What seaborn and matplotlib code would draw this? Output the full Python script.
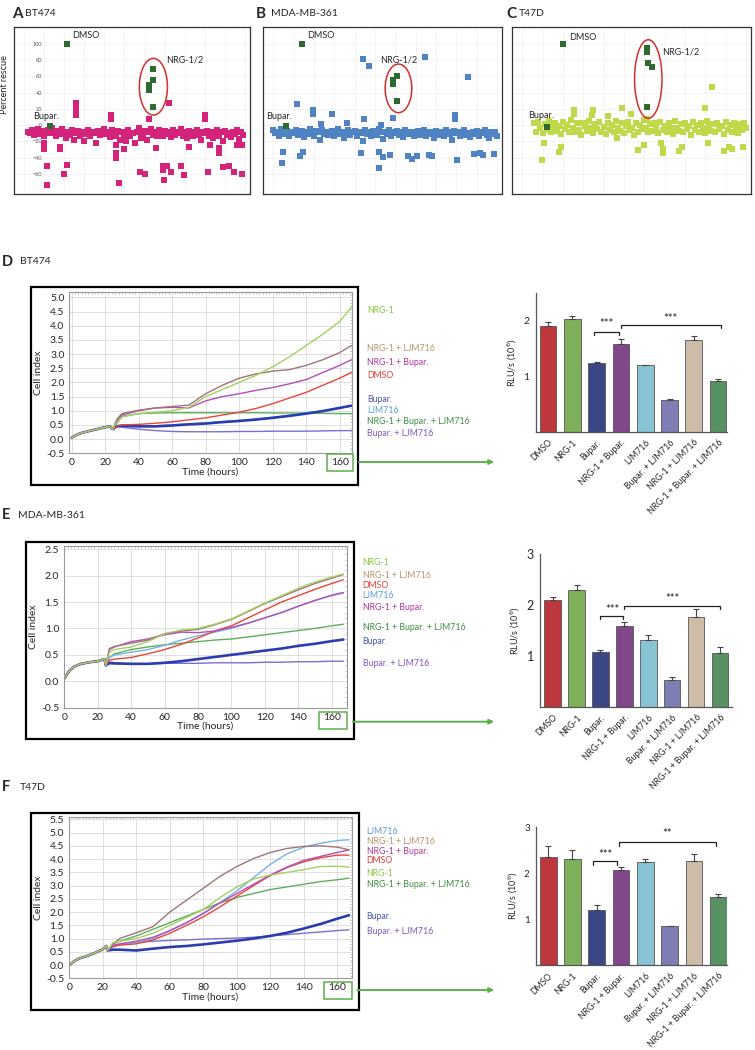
"""
Rescue screen (A-C) + real-time growth and viability panels (D-F).
Rebuilt as a single 755x1050 figure -> out.png
"""

import numpy as np
import matplotlib
matplotlib.use("Agg")
import matplotlib.pyplot as plt
import seaborn as sns
from matplotlib.patches import Rectangle, Ellipse, FancyArrowPatch
from matplotlib.ticker import MultipleLocator

# ----------------------------------------------------------------------
# Data
# ----------------------------------------------------------------------
TREATMENTS = ["DMSO", "NRG-1", "Bupar.", "NRG-1 + Bupar.", "LJM716",
              "Bupar. + LJM716", "NRG-1 + LJM716", "NRG-1 + Bupar. + LJM716"]

# --- screens: percent rescue per well (x = well order) ---
A_BAND = [-8, -10, -6, -12, -9, -5, -11, -7, -13, -8,
          -6, -10, -4, -9, -14, -7, -11, -5, -9, -16,
          -8, -12, -6, -18, -10, -7, -13, -9, -20, -11,
          -6, -14, -8, -10, -22, -7, -12, -9, -5, -11,
          -8, -15, -6, -10, -13, -7, -18, -9, -12, -20,
          -6, -14, -10, -22, -8, -4, -16, -11, -7, -19,
          -9, -5, -12, -8, -14, -6, -10, -13, -7, -11,
          -9, -15, -6, -12, -8, -10, -5, -13, -9, -16,
          -7, -11, -14, -8, -6, -12, -18, -9, -10, -7,
          -13, -8, -16, -11, -6, -14, -9, -20, -7, -12,
          -10, -15, -8, -11, -6, -17, -9, -12]
A_OUT_X = [9.9, 9.9, 11.5, 11.5, 18, 18, 19.7, 21.3, 26, 26, 26, 43.5, 43.5,
           46, 46, 46, 47.3, 50, 57.5, 60, 62, 65.7, 69, 69, 69.8, 71.4, 72.2,
           73, 78, 79.6, 82, 90.3, 90.3, 91.6, 92.8, 97, 97, 99.3, 101.8,
           104.3, 106, 108.4, 108.4]
A_OUT_Y = [-22, -30, -51, -74, -27, -30, -60, -49, 27, 20, 12, 12, 8,
           -25, -35, -40, -71, -30, -58, -60, 8, -28, -55, -50, -68, -50, 27,
           -58, -51, -61, -27, 12, 8, -58, -25, -35, -28, -52, -50,
           -58, -25, -60, -25]
A_HIT_X = [21.3, 13.1, 64.4, 64.4, 62.1, 62.1, 64.4]
A_HIT_Y = [100, -1, 68.7, 55.6, 49, 43, 22.6]

B_BAND = [-6, -10, -8, -13, -5, -9, -11, -7, -14, -8,
          -10, -6, -12, -9, -7, -15, -8, -11, -5, -10,
          -13, -7, -9, -18, -6, -11, -8, -12, -10, -7,
          -14, -9, -5, -11, -8, -16, -10, -6, -12, -9,
          -7, -13, -8, -10, -20, -6, -11, -9, -14, -7,
          -10, -12, -5, -9, -17, -8, -11, -6, -13, -10,
          -8, -7, -12, -9, -15, -6, -10, -11, -8, -13,
          -9, -7, -12, -10, -6, -14, -8, -11, -9, -16,
          -7, -10, -12, -8, -13, -6, -9, -11, -18, -7,
          -10, -8, -14, -9, -6, -12, -10, -15, -8, -11,
          -7, -13, -9, -10, -6, -12, -16, -8, -11, -9, -13]
B_OUT_X = [44, 47.3, 74.7, 96, 11.5, 19.7, 19.7, 28.7, 44.7, 23.5, 59, 52.9,
           89.5, 89.5, 36.5, 4.6, 4.1, 13.1, 14.8, 43, 52.2, 54.2, 57.5, 52.2,
           66.5, 68.1, 70.6, 76.4, 78, 90.6, 98.9, 101.8, 103.4, 108.7]
B_OUT_Y = [81, 73, 83.5, 59, 26, 18.5, 14, 14, 7, 1, 8.6, 0.5,
           12, 7, 3, -33, -46.5, -38, -33, -35, -33, -39, -37, -53,
           -38, -42, -38, -37, -38, -42.5, -36, -34, -37, -36]
B_HIT_X = [14.3, 6.1, 61, 58.8, 58.8, 61]
B_HIT_Y = [100, -1, 60.5, 55.6, 50.6, 30]

C_BAND = [2, -8, 4, -4, -10, 1, -6, 5, -9, -2,
          3, -7, -1, -11, 4, -5, 0, -9, 6, -3,
          -8, 2, -6, -12, 3, -1, -7, 5, -4, -10,
          1, -5, 4, -8, -2, -11, 3, -6, 0, -9,
          5, -3, -7, 2, -10, -1, 4, -6, -4, -12,
          2, -8, 0, -5, 6, -3, -9, 1, -7, 3,
          -2, -10, 4, -6, -1, -8, 2, -4, -11, 5,
          -3, -7, 1, -9, 3, -5, -1, -12, 4, -6,
          0, -8, 2, -4, -10, 5, -2, -7, 1, -9,
          3, -5, -1, -11, 4, -6, 0, -8, 2, -3,
          -10, 1, -6, 3, -4]
C_OUT_X = [93.3, 90, 25.5, 25.5, 34.8, 34.2, 42.4, 48.9, 53.4, 61.6, 10.7, 9.9,
           18, 18.9, 46.8, 57.1, 59.9, 68.1, 69, 69, 77.2, 78.8, 91.6, 99.3,
           101.8, 103.4, 108.4]
C_OUT_Y = [46.5, 20.6, 18.5, 13.5, 18.5, 12.5, 11, 20.6, 13.6, 7.5, -22.6, -43,
           -33, -27, -16.5, -30.6, -25, -22.5, -29, -35, -32, -27, -22.5, -31.5,
           -27, -29.5, -27]
C_HIT_X = [20.2, 12, 61.6, 61.6, 62, 64, 61.6]
C_HIT_Y = [100, -2, 95, 90, 77, 72, 22]

# --- growth curves (cell index); shared pre-treatment part + per-arm part ---
D_T_PRE = [0, 3, 6, 10, 15, 20, 23]
D_PRE = [0.05, 0.15, 0.22, 0.28, 0.35, 0.42, 0.45]
D_T = [24.5, 27, 30, 40, 50, 60, 70, 80, 90, 100, 110, 120, 130, 140, 150, 160, 167]
D_DMSO = [0.35, 0.45, 0.5, 0.52, 0.56, 0.61, 0.68, 0.75, 0.85, 0.95, 1.08, 1.25, 1.45, 1.65, 1.9, 2.15, 2.35]
D_NRG = [0.35, 0.6, 0.78, 0.9, 0.95, 1.0, 1.12, 1.5, 1.75, 2.0, 2.25, 2.55, 2.9, 3.3, 3.7, 4.15, 4.65]
D_BUP = [0.35, 0.45, 0.47, 0.45, 0.45, 0.48, 0.52, 0.55, 0.6, 0.64, 0.69, 0.75, 0.82, 0.9, 0.99, 1.1, 1.18]
D_NRG_BUP = [0.35, 0.65, 0.85, 1.0, 1.1, 1.12, 1.1, 1.35, 1.5, 1.6, 1.72, 1.82, 1.95, 2.1, 2.35, 2.6, 2.8]
D_LJM = [0.35, 0.48, 0.5, 0.48, 0.47, 0.5, 0.54, 0.57, 0.62, 0.66, 0.71, 0.77, 0.84, 0.91, 1.0, 1.1, 1.17]
D_BUP_LJM = [0.35, 0.45, 0.42, 0.35, 0.3, 0.27, 0.26, 0.26, 0.26, 0.27, 0.27, 0.28, 0.28, 0.28, 0.29, 0.3, 0.3]
D_NRG_LJM = [0.35, 0.7, 0.9, 1.02, 1.1, 1.15, 1.2, 1.6, 1.9, 2.15, 2.3, 2.4, 2.45, 2.6, 2.8, 3.05, 3.3]
D_TRIPLE = [0.35, 0.55, 0.8, 0.9, 0.92, 0.93, 0.93, 0.93, 0.93, 0.93, 0.93, 0.92, 0.92, 0.92, 0.91, 0.9, 0.9]

E_T_PRE = [0, 3, 6, 10, 15, 20, 24]
E_PRE = [0.05, 0.2, 0.28, 0.33, 0.36, 0.38, 0.42]
E_T = [24.8, 27, 30, 40, 50, 60, 70, 80, 90, 100, 110, 120, 130, 140, 150, 160, 167]
E_DMSO = [0.3, 0.4, 0.42, 0.45, 0.52, 0.6, 0.7, 0.82, 0.95, 1.05, 1.2, 1.35, 1.5, 1.62, 1.74, 1.85, 1.92]
E_NRG = [0.3, 0.55, 0.6, 0.65, 0.75, 0.9, 0.97, 1.0, 1.08, 1.18, 1.33, 1.48, 1.62, 1.76, 1.88, 1.97, 2.03]
E_BUP = [0.3, 0.35, 0.34, 0.33, 0.33, 0.35, 0.38, 0.42, 0.46, 0.5, 0.54, 0.58, 0.62, 0.67, 0.71, 0.76, 0.79]
E_NRG_BUP = [0.3, 0.6, 0.65, 0.75, 0.8, 0.88, 0.93, 0.92, 0.95, 1.02, 1.1, 1.2, 1.3, 1.42, 1.53, 1.63, 1.68]
E_LJM = [0.3, 0.45, 0.5, 0.55, 0.6, 0.68, 0.78, 0.86, 0.93, 1.0, 1.1, 1.2, 1.3, 1.42, 1.53, 1.62, 1.67]
E_BUP_LJM = [0.3, 0.33, 0.33, 0.33, 0.33, 0.34, 0.34, 0.34, 0.35, 0.35, 0.35, 0.36, 0.36, 0.37, 0.37, 0.38, 0.38]
E_NRG_LJM = [0.3, 0.62, 0.66, 0.72, 0.78, 0.9, 0.95, 0.98, 1.07, 1.17, 1.32, 1.47, 1.6, 1.73, 1.85, 1.95, 2.02]
E_TRIPLE = [0.3, 0.45, 0.52, 0.6, 0.65, 0.69, 0.72, 0.75, 0.78, 0.8, 0.84, 0.88, 0.92, 0.96, 1.0, 1.05, 1.08]

F_T_PRE = [0, 3, 6, 10, 15, 20, 22]
F_PRE = [0.0, 0.15, 0.25, 0.33, 0.45, 0.6, 0.72]
F_T = [22.8, 26, 30, 40, 50, 60, 70, 80, 90, 100, 110, 120, 130, 140, 150, 160, 167]
F_DMSO = [0.55, 0.7, 0.75, 0.8, 0.95, 1.2, 1.5, 1.82, 2.2, 2.6, 3.0, 3.38, 3.68, 3.9, 4.05, 4.15, 4.15]
F_NRG = [0.55, 0.85, 0.9, 1.0, 1.2, 1.5, 1.8, 2.1, 2.55, 2.95, 3.25, 3.4, 3.5, 3.6, 3.72, 3.73, 3.7]
F_BUP = [0.55, 0.58, 0.58, 0.55, 0.62, 0.68, 0.72, 0.78, 0.85, 0.92, 1.0, 1.1, 1.22, 1.38, 1.55, 1.75, 1.88]
F_NRG_BUP = [0.55, 0.75, 0.8, 0.9, 1.05, 1.3, 1.6, 1.95, 2.35, 2.7, 3.05, 3.4, 3.7, 3.95, 4.1, 4.25, 4.35]
F_LJM = [0.55, 0.7, 0.78, 0.85, 1.0, 1.3, 1.6, 1.95, 2.35, 2.8, 3.3, 3.8, 4.2, 4.45, 4.6, 4.7, 4.73]
F_BUP_LJM = [0.55, 0.7, 0.78, 0.85, 0.9, 0.93, 0.95, 0.98, 1.0, 1.02, 1.05, 1.1, 1.15, 1.2, 1.25, 1.3, 1.33]
F_NRG_LJM = [0.55, 0.8, 1.0, 1.22, 1.45, 2.0, 2.45, 2.9, 3.35, 3.72, 4.02, 4.25, 4.4, 4.48, 4.5, 4.45, 4.35]
F_TRIPLE = [0.55, 0.8, 0.9, 1.1, 1.35, 1.6, 1.85, 2.1, 2.35, 2.55, 2.7, 2.85, 2.95, 3.05, 3.15, 3.22, 3.28]

# --- viability bars, RLU/s (10^6), mean and upper error ---
D_RLU = [1.91, 2.03, 1.24, 1.59, 1.20, 0.58, 1.65, 0.92]
D_ERR = [0.07, 0.06, 0.02, 0.08, 0.01, 0.01, 0.07, 0.04]
E_RLU = [2.10, 2.29, 1.07, 1.58, 1.31, 0.52, 1.77, 1.06]
E_ERR = [0.06, 0.11, 0.04, 0.08, 0.09, 0.07, 0.14, 0.11]
F_RLU = [2.36, 2.32, 1.20, 2.07, 2.24, 0.84, 2.27, 1.49]
F_ERR = [0.23, 0.18, 0.11, 0.06, 0.08, 0.02, 0.14, 0.06]

# ----------------------------------------------------------------------
# Styling
# ----------------------------------------------------------------------
LINE_COLORS = ["#E8453C", "#A3D15F", "#2A3DB0", "#B34FB8",
               "#74B2EA", "#7B6FD0", "#A07478", "#5CAF5C"]
LABEL_COLORS = ["#E53935", "#8CC63F", "#4A55B0", "#B0359A",
                "#5B9BD5", "#7E57C2", "#B8956A", "#3E8E41"]
BAR_COLORS = ["#D42027", "#7CBF4A", "#2E3D92", "#8A3B97",
              "#7DCBE0", "#7575BD", "#D3BCA2", "#4E9A5E"]
SCREEN_COLORS = ["#D4237A", "#4F83C4", "#BFD94A"]
HIT_GREEN = "#2F6B2F"
RING_RED = "#D32F2F"
ARROW_GREEN = "#5BB04C"

sns.set_style("white")
plt.rcParams["font.family"] = ["Lato", "DejaVu Sans"]
plt.rcParams["axes.unicode_minus"] = True

W, H = 755, 1050
fig = plt.figure(figsize=(W / 100, H / 100), dpi=100)


def px_axes(l, t, r, b):
    return fig.add_axes([l / W, 1 - b / H, (r - l) / W, (b - t) / H])


def fig_rect(l, t, r, b, color, lw):
    fig.add_artist(Rectangle((l / W, 1 - b / H), (r - l) / W, (b - t) / H,
                             transform=fig.transFigure, fill=False,
                             ec=color, lw=lw))


def fig_text(x, y, s, **kw):
    fig.text(x / W, 1 - y / H, s, va="center", **kw)


def panel_tag(x, y, letter, name, name_dx, size=11):
    fig_text(x, y, letter, fontsize=size, fontweight="bold")
    fig_text(x + name_dx, y, name, fontsize=7.5)


# ----------------------------------------------------------------------
# A-C: rescue screens
# ----------------------------------------------------------------------
def screen_panel(rect, band, band_start, out_x, out_y, hit_x, hit_y, color,
                 ring, labels, show_ticks):
    ax = px_axes(*rect)
    bx = list(range(band_start, band_start + len(band)))
    sns.scatterplot(x=bx + out_x, y=band + out_y, marker="s", s=18,
                    color=color, linewidth=0, ax=ax)
    sns.scatterplot(x=hit_x, y=hit_y, marker="s", s=18, color=HIT_GREEN,
                    linewidth=0, ax=ax, zorder=3)
    cx, cy, w, h = ring
    ax.add_patch(Ellipse((cx, cy), w, h, fill=False, ec=RING_RED, lw=1.1, zorder=4))
    for s, x, y in labels:
        ax.text(x, y, s, fontsize=6.5, va="center", ha="left")
    ax.set_xlim(-5, 112.5)
    ax.set_ylim(-85, 121)
    ax.set_xticks(np.arange(0, 111, 10))
    ax.set_yticks(np.arange(-60, 101, 20))
    ax.grid(True, color="#f0f0f0", lw=0.5)
    ax.tick_params(axis="x", length=0, labelbottom=False)
    if show_ticks:
        ax.tick_params(axis="y", length=0, pad=-20, labelsize=4,
                       labelcolor="#555555")
    else:
        ax.tick_params(axis="y", length=0, labelleft=False)
    for sp in ax.spines.values():
        sp.set_color("#333333")
        sp.set_linewidth(0.9)
    ax.set_xlabel("")
    ax.set_ylabel("")
    return ax


screen_panel((14, 27, 250, 194), A_BAND, 2, A_OUT_X, A_OUT_Y, A_HIT_X, A_HIT_Y,
             SCREEN_COLORS[0], (64.4, 47.3, 14, 70),
             [("DMSO", 23.8, 111), ("NRG-1/2", 70.6, 80), ("Bupar.", 4.6, 11)], True)
screen_panel((263, 27, 502, 194), B_BAND, 0, B_OUT_X, B_OUT_Y, B_HIT_X, B_HIT_Y,
             SCREEN_COLORS[1], (61.6, 45.3, 13.1, 60),
             [("DMSO", 16.7, 111), ("NRG-1/2", 52.5, 80), ("Bupar.", -3.6, 11)], False)
screen_panel((512, 27, 751, 194), C_BAND, 6, C_OUT_X, C_OUT_Y, C_HIT_X, C_HIT_Y,
             SCREEN_COLORS[2], (62, 56.8, 13.5, 97),
             [("DMSO", 23, 108), ("NRG-1/2", 69, 90.5), ("Bupar.", 3, 12.3)], False)
fig.text(5 / W, 1 - 85 / H, "Percent rescue", rotation=90, fontsize=6.5,
         ha="center", va="center")

panel_tag(12, 14, "A", "BT474", 13)
panel_tag(256, 14, "B", "MDA-MB-361", 15)
panel_tag(506, 14, "C", "T47D", 13)


# ----------------------------------------------------------------------
# D-F: growth curves
# ----------------------------------------------------------------------
def growth_panel(rect, frame, t_pre, pre, t_post, curves, ylim, xlim,
                 label_x, label_ys, box160, arrow_y):
    ax = px_axes(*rect)
    order = [5, 7, 4, 2, 0, 3, 6, 1]
    for i in order:
        sns.lineplot(x=t_pre + t_post, y=pre + curves[i], ax=ax,
                     color=LINE_COLORS[i], lw=1.9 if i == 2 else 1.0,
                     estimator=None, sort=False)
    ax.set_xlim(*xlim)
    ax.set_ylim(*ylim)
    ax.xaxis.set_major_locator(MultipleLocator(20))
    ax.yaxis.set_major_locator(MultipleLocator(0.5))
    ax.xaxis.set_minor_locator(MultipleLocator(2))
    ax.yaxis.set_minor_locator(MultipleLocator(0.1))
    ax.yaxis.set_major_formatter(matplotlib.ticker.FormatStrFormatter("%.1f"))
    ax.grid(True, which="major", color="#d9d9d9", lw=0.6)
    ax.tick_params(which="major", length=2, width=0.6, color="#888888",
                   labelsize=7.5, pad=1.5)
    ax.tick_params(which="minor", direction="in", length=1.5, width=0.5,
                   color="#aaaaaa", top=True, right=True)
    for sp in ax.spines.values():
        sp.set_color("#9a9a9a")
        sp.set_linewidth(0.8)
    ax.set_xlabel("Time (hours)", fontsize=7.5, labelpad=0)
    ax.set_ylabel("Cell index", fontsize=7.5, labelpad=2)
    for i, y in enumerate(label_ys):
        fig_text(label_x, y, TREATMENTS[i], fontsize=6.3, color=LABEL_COLORS[i])
    fig_rect(*frame, "black", 1.6)
    fig_rect(*box160, ARROW_GREEN, 1.1)
    fig.add_artist(FancyArrowPatch((box160[2] / W + 0.004, 1 - arrow_y / H),
                                   (497 / W, 1 - arrow_y / H),
                                   transform=fig.transFigure,
                                   arrowstyle="-|>", mutation_scale=7,
                                   color=ARROW_GREEN, lw=1.4))
    return ax


D_CURVES = [D_DMSO, D_NRG, D_BUP, D_NRG_BUP, D_LJM, D_BUP_LJM, D_NRG_LJM, D_TRIPLE]
E_CURVES = [E_DMSO, E_NRG, E_BUP, E_NRG_BUP, E_LJM, E_BUP_LJM, E_NRG_LJM, E_TRIPLE]
F_CURVES = [F_DMSO, F_NRG, F_BUP, F_NRG_BUP, F_LJM, F_BUP_LJM, F_NRG_LJM, F_TRIPLE]

# label y positions (px) in TREATMENTS order
growth_panel((69.3, 291.7, 351.7, 453.3), (30.7, 287, 358.3, 485),
             D_T_PRE, D_PRE, D_T, D_CURVES, (-0.5, 5.2), (-1.4, 167.2),
             367, [375, 310.7, 400, 362.7, 410.7, 433.3, 348.7, 421.7],
             (327, 454, 353, 471), 462)
growth_panel((64, 546, 346.7, 707.7), (26, 542, 354, 739),
             E_T_PRE, E_PRE, E_T, E_CURVES, (-0.5, 2.56), (-0.2, 169),
             362.7, [585, 562.7, 641.7, 607.3, 596, 664, 575, 627.3],
             (319, 711.7, 347, 729.3), 721.7)
growth_panel((69, 816.7, 351.7, 978.3), (30.7, 813, 359, 1010),
             F_T_PRE, F_PRE, F_T, F_CURVES, (-0.5, 5.6), (-0.2, 168.6),
             366.7, [860.7, 874, 916.7, 851, 831.7, 931, 841.7, 884.7],
             (324, 981.7, 351.7, 999.3), 990)

panel_tag(2, 262, "D", "BT474", 18, size=10.5)
panel_tag(2, 515, "E", "MDA-MB-361", 16, size=10.5)
panel_tag(2, 787, "F", "T47D", 18, size=10.5)


# ----------------------------------------------------------------------
# D-F: viability bars
# ----------------------------------------------------------------------
def bar_panel(rect, vals, errs, ylim, xlim, yticks, ylabels, tick_size,
              brackets):
    ax = px_axes(*rect)
    sns.barplot(x=TREATMENTS, y=vals, hue=TREATMENTS, order=TREATMENTS,
                hue_order=TREATMENTS, palette=BAR_COLORS, legend=False,
                width=0.69, edgecolor="#555555", linewidth=0.6,
                errorbar=None, ax=ax)
    ax.errorbar(range(len(vals)), vals, yerr=[np.zeros(len(vals)), errs],
                fmt="none", ecolor="#444444", elinewidth=0.8, capsize=2.5,
                capthick=0.8, zorder=3)
    for x0, x1, y, drop, star, ys in brackets:
        ax.plot([x0, x0, x1, x1], [y - drop, y, y, y - drop], color="#222222",
                lw=0.9, clip_on=False)
        ax.text((x0 + x1) / 2, ys, star, ha="center", va="center",
                fontsize=8, color="#222222")
    ax.set_xlim(*xlim)
    ax.set_ylim(*ylim)
    ax.set_yticks(yticks)
    ax.set_yticklabels(ylabels, fontsize=tick_size)
    ax.set_xticks(range(len(TREATMENTS)))
    ax.set_xticklabels(TREATMENTS, rotation=45, ha="right",
                       rotation_mode="anchor", fontsize=6.2)
    ax.tick_params(length=3, width=0.8, color="#555555", pad=1.5)
    sns.despine(ax=ax)
    for sp in ("left", "bottom"):
        ax.spines[sp].set_color("#555555")
        ax.spines[sp].set_linewidth(0.9)
    ax.set_xlabel("")
    ax.set_ylabel("RLU/s (10$^6$)", fontsize=6.5, labelpad=3)
    return ax


bar_panel((535.7, 293.3, 727.3, 431.7), D_RLU, D_ERR, (0, 2.5), (-0.51, 7.38),
          [0, 0.5, 1, 1.5, 2, 2.5], ["", "", "1", "", "2", ""], 7.5,
          [(1.9, 2.9, 1.80, 0.06, "***", 1.95), (3.0, 7.1, 1.93, 0.06, "***", 2.05)])
bar_panel((540, 554, 731.7, 706.7), E_RLU, E_ERR, (0, 3), (-0.53, 7.49),
          [0, 1, 2, 3], ["", "1", "2", "3"], 9,
          [(2.0, 2.96, 1.78, 0.06, "***", 1.9), (3.0, 7.0, 1.98, 0.07, "***", 2.13)])
bar_panel((536, 827.3, 727.3, 965), F_RLU, F_ERR, (0, 3), (-0.5, 7.37),
          [0, 1, 2, 3], ["", "1", "2", "3"], 7,
          [(1.85, 2.85, 2.27, 0.09, "***", 2.41), (2.9, 6.9, 2.67, 0.07, "**", 2.86)])

fig.savefig("out.png", dpi=100, facecolor="white")
